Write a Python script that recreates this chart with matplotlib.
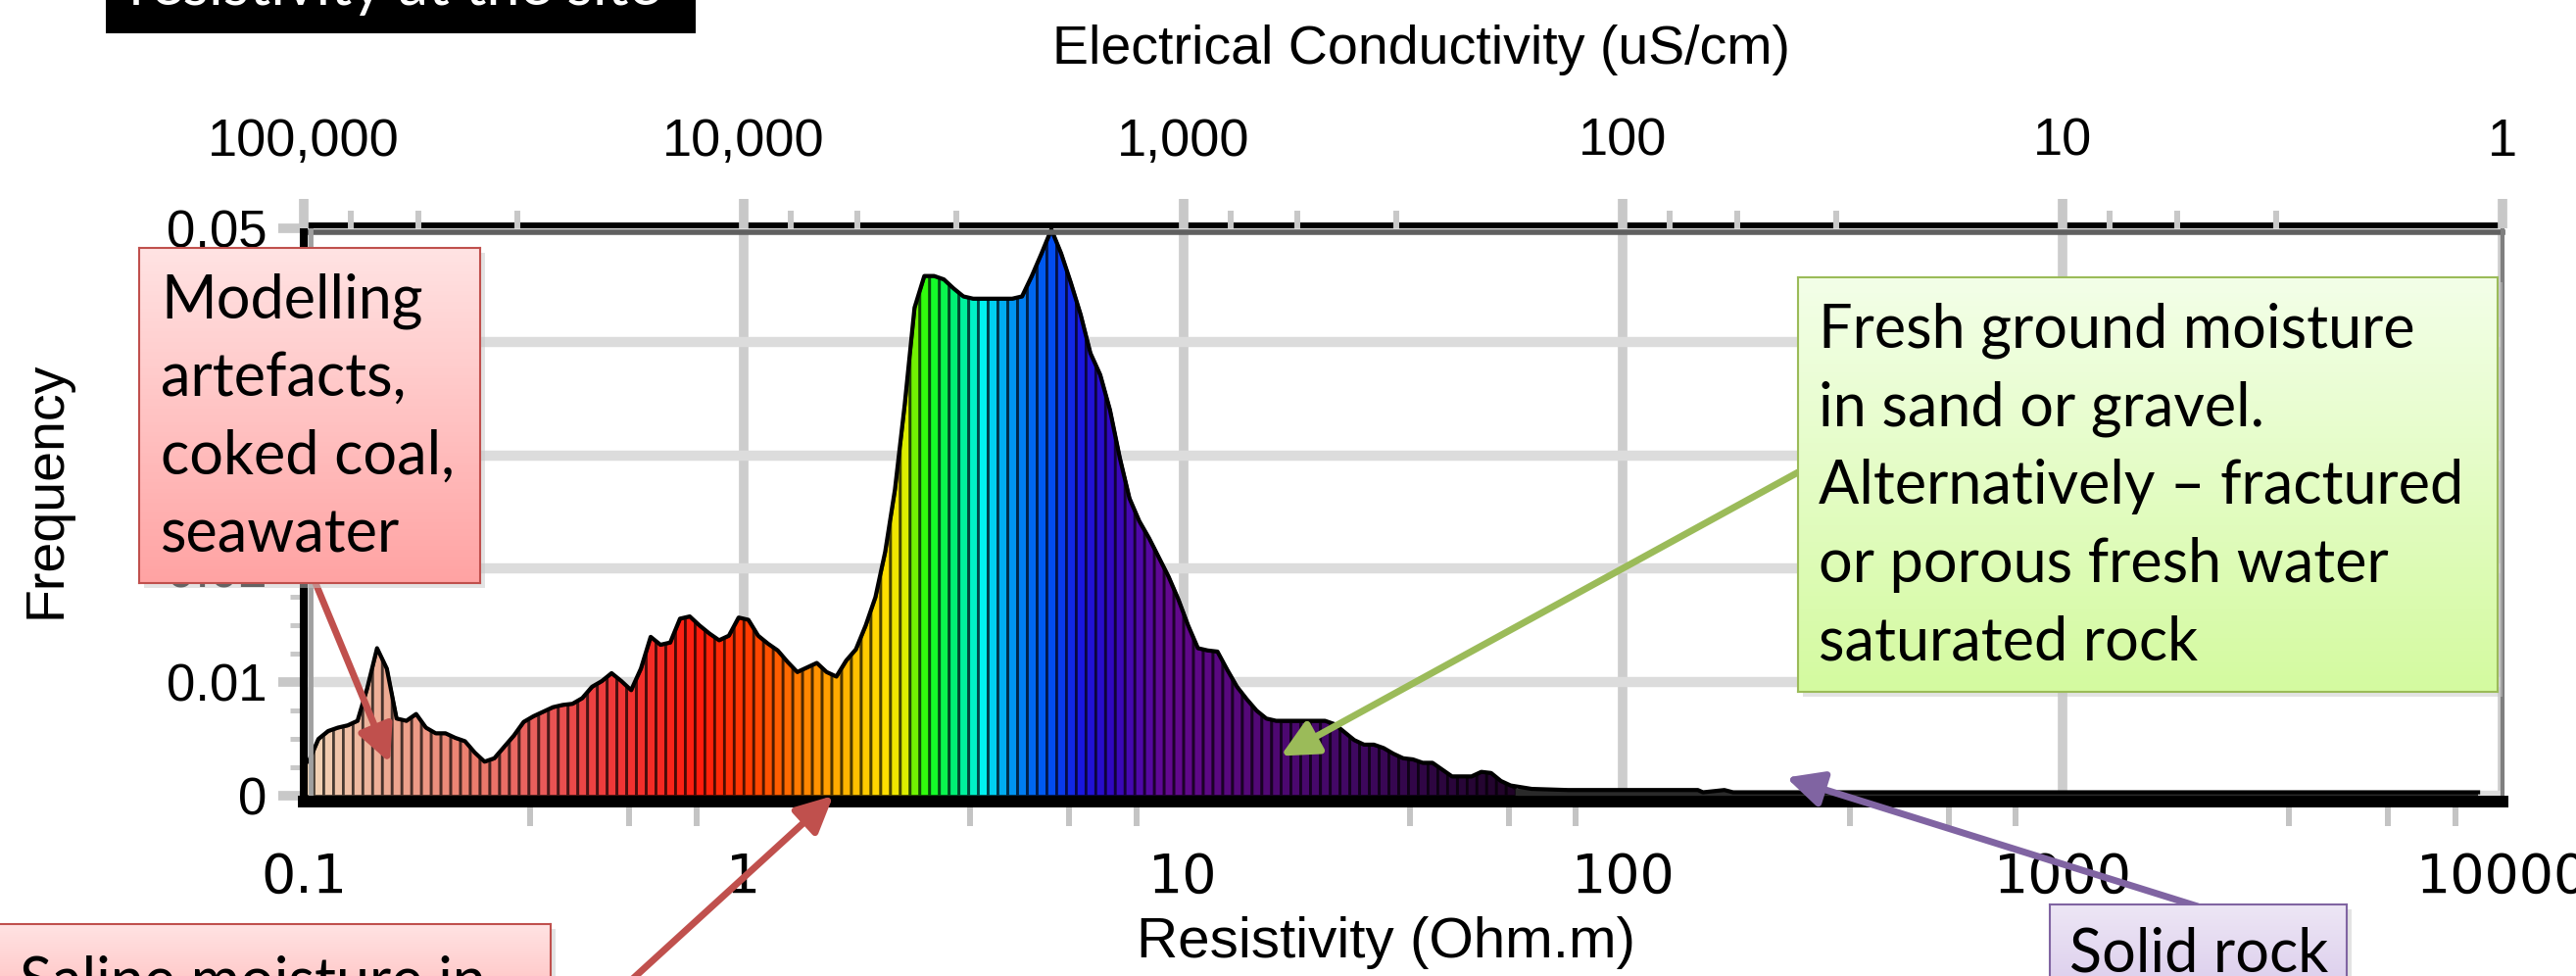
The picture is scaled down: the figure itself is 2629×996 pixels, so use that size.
"""
resistivity histogram with conductivity axis and interpretation notes
"""

import numpy as np
import matplotlib
matplotlib.use('Agg')
import matplotlib.pyplot as plt
from matplotlib import font_manager
from matplotlib.colors import LinearSegmentedColormap
from matplotlib.ticker import NullFormatter
from matplotlib.transforms import offset_copy

# histogram of model resistivities: 45 bins per decade from 0.1 ohm.m
bins_per_decade = 45
start_rho = 0.1
freq = [
    0.0030, 0.0050, 0.0057, 0.0060, 0.0062, 0.0066, 0.0095, 0.0130, 0.0112, 0.0068,
    0.0066, 0.0072, 0.0060, 0.0055, 0.0055, 0.0051, 0.0048, 0.0038, 0.0030, 0.0033,
    0.0043, 0.0053, 0.0065, 0.0070, 0.0074, 0.0078, 0.0080, 0.0081, 0.0086, 0.0096,
    0.0101, 0.0108, 0.0101, 0.0093, 0.0112, 0.0140, 0.0133, 0.0135, 0.0156, 0.0158,
    0.0150, 0.0143, 0.0137, 0.0141, 0.0157, 0.0155, 0.0141, 0.0134, 0.0128, 0.0118,
    0.0109, 0.0113, 0.0117, 0.0109, 0.0105, 0.0119, 0.0129, 0.0150, 0.0175, 0.0215,
    0.0270, 0.0345, 0.0430, 0.0458, 0.0458, 0.0455, 0.0447, 0.0440, 0.0438, 0.0438,
    0.0438, 0.0438, 0.0438, 0.0440, 0.0458, 0.0478, 0.0499, 0.0478, 0.0452, 0.0424,
    0.0390, 0.0371, 0.0340, 0.0298, 0.0262, 0.0242, 0.0227, 0.0210, 0.0193, 0.0173,
    0.0150, 0.0130, 0.0128, 0.0127, 0.0111, 0.0096, 0.0085, 0.0075, 0.0068, 0.0066,
    0.0066, 0.0066, 0.0066, 0.0066, 0.0066, 0.0063, 0.0056, 0.0049, 0.0045, 0.0045,
    0.0042, 0.0037, 0.0033, 0.0032, 0.0029, 0.0029, 0.0023, 0.0017, 0.0017, 0.0017,
    0.0021, 0.0020, 0.0013, 0.0009,
]
# near-zero tail of the distribution
tail_rho = [62, 75, 148, 152, 170, 178, 2000, 8800]
tail_freq = [0.0006, 0.0005, 0.0005, 0.0003, 0.0005, 0.0003, 0.0003, 0.0003]

x_ticks = [0.1, 1, 10, 100, 1000, 10000]
x_tick_labels = ['0.1', '1', '10', '100', '1000', '10000']
top_tick_labels = ['100,000', '10,000', '1,000', '100', '10', '1']
y_ticks = [0, 0.01, 0.02, 0.03, 0.04, 0.05]
y_tick_labels = ['0', '0.01', '0.02', '0.03', '0.04', '0.05']

notes = {
    'artefacts': ['Modelling', 'artefacts,', 'coked coal,', 'seawater'],
    'saline': ['Saline moisture in'],
    'fresh': ['Fresh ground moisture', 'in sand or gravel.',
              'Alternatively \u2013 fractured', 'or porous fresh water',
              'saturated rock'],
    'rock': ['Solid rock'],
}
title_text = 'resistivity at the site'

# colour stops along the bar index
bar_color_stops = [
    (0, '#F2D6B8'), (8, '#EDA892'), (16, '#EC8070'), (24, '#E85858'),
    (32, '#EF3434'), (40, '#FF1C0C'), (45, '#FF3C00'), (48, '#FF6000'),
    (51, '#FF8400'), (54, '#FFAA00'), (57, '#FFCC00'), (59, '#FFE000'),
    (61, '#D8F000'), (62, '#80F000'), (63.5, '#1CFF10'), (66, '#00F070'),
    (69, '#00F2F2'), (71, '#00A8F0'), (73, '#0078F0'), (76, '#0050F0'),
    (79, '#1818E0'), (82, '#3008C0'), (85, '#5008A8'), (88, '#640890'),
    (96, '#540878'), (105, '#440868'), (115, '#2E0642'), (123, '#200428'),
]

names = {f.name for f in font_manager.fontManager.ttflist}
narrow = 'Liberation Sans Narrow' if 'Liberation Sans Narrow' in names else 'Liberation Sans'
note_font = 'Lato'

W, H = 2629, 996
fig = plt.figure(figsize=(W / 100, H / 100), dpi=100)
fig.patch.set_facecolor('white')
ax = fig.add_axes([310 / W, 184 / H, (2554 - 310) / W, (763 - 184) / H])

vals = np.array(freq)
n = len(vals)
edges = start_rho * 10 ** (np.arange(n + 1) / bins_per_decade)
centers = np.sqrt(edges[:-1] * edges[1:])
edge_vals = np.concatenate([[vals[0]], (vals[:-1] + vals[1:]) / 2, [tail_freq[0]]])

stop_idx = [s[0] / (n - 1) for s in bar_color_stops]
cmap = LinearSegmentedColormap.from_list(
    'res', list(zip(stop_idx, [s[1] for s in bar_color_stops])))

for i in range(n):
    fc = np.array(cmap(i / (n - 1))[:3])
    ax.fill_between([edges[i], centers[i], edges[i + 1]],
                    [edge_vals[i], vals[i], edge_vals[i + 1]], 0,
                    facecolor=fc, edgecolor=fc * 0.3, lw=2.0, zorder=1)

ax.fill_between([edges[-1]] + tail_rho, [tail_freq[0]] + tail_freq, 0,
                facecolor='#2A2A2A', lw=0, zorder=1)
ax.plot(np.concatenate([[edges[0]], centers, tail_rho]),
        np.concatenate([[vals[0]], vals, tail_freq]),
        color='black', lw=3, zorder=2, solid_joinstyle='round')

ax.set_xscale('log')
ax.set_xlim(0.1, 10000)
ax.set_ylim(0, 0.05)
ax.set_axisbelow(True)
ax.grid(axis='y', which='major', color='#DCDCDC', lw=7.5)
ax.grid(axis='x', which='major', color='#CDCDCD', lw=7)

minor_fracs = [0.515, 0.74, 0.893]
x_minor = [10 ** (k + f) for k in range(-1, 4) for f in minor_fracs]
ax.set_xticks(x_ticks, x_tick_labels)
ax.set_xticks(x_minor, minor=True)
ax.xaxis.set_minor_formatter(NullFormatter())
ax.set_yticks(y_ticks, y_tick_labels)
ax.set_yticks(np.arange(0, 0.05, 0.0025), minor=True)

ax.tick_params(axis='x', which='major', length=0, pad=37, labelsize=40)
ax.tick_params(axis='x', which='minor', length=18, width=4.3, color='#C4C4C4')
ax.tick_params(axis='y', which='major', length=19, width=7, color='#C8C8C8',
               pad=8, labelsize=38)
ax.tick_params(axis='y', which='minor', length=10, width=3.6, color='#C8C8C8')
for lab in ax.get_xticklabels() + ax.get_yticklabels():
    lab.set_family(narrow)

ax.spines['bottom'].set_linewidth(8.6)
ax.spines['bottom'].set_position(('outward', 4))
ax.spines['top'].set_linewidth(4.3)
ax.spines['top'].set_position(('outward', 2))
ax.spines['left'].set_linewidth(5.8)
ax.spines['right'].set_color('#7F7F7F')
ax.spines['right'].set_linewidth(3)
ax.plot([0, 1], [1, 1], transform=offset_copy(ax.transAxes, fig=fig, y=-4, units='dots'),
        color='#606060', lw=4, clip_on=False, zorder=2.4)
ax.plot([0, 0], [0, 1], transform=offset_copy(ax.transAxes, fig=fig, x=7, units='dots'),
        color='#A0A0A0', lw=3.5, clip_on=False, zorder=2.4)

# conductivity axis on top: EC (uS/cm) = 10000 / rho (ohm.m)
ax2 = ax.twiny()
ax2.set_xscale('log')
ax2.set_xlim(ax.get_xlim())
top_fracs = [0.107, 0.26, 0.485]
ax2.set_xticks(x_ticks, top_tick_labels)
ax2.set_xticks([10 ** (k + f) for k in range(-1, 4) for f in top_fracs], minor=True)
ax2.xaxis.set_minor_formatter(NullFormatter())
ax2.tick_params(axis='x', which='major', length=21.6, width=7, color='#C8C8C8',
                pad=24, labelsize=39)
ax2.tick_params(axis='x', which='minor', length=13, width=4.3, color='#C8C8C8')
for lab in ax2.get_xticklabels():
    lab.set_family(narrow)
for s in ax2.spines.values():
    s.set_visible(False)

fig.text(1451 / W, 931 / H, 'Electrical Conductivity (uS/cm)', ha='center',
         va='baseline', fontsize=40, family=narrow)
fig.text(1415 / W, 34 / H, 'Resistivity (Ohm.m)', ha='center', va='center',
         fontsize=42, family=narrow)
fig.text(47 / W, 496 / H, 'Frequency', rotation=90, ha='center', va='center',
         fontsize=40, family=narrow)


def arrow(tip, start, color):
    a = ax.annotate('', xy=tip, xycoords='data', xytext=start,
                    textcoords='figure pixels', annotation_clip=False,
                    arrowprops=dict(arrowstyle='-|>,head_length=0.45,head_width=0.22',
                                    color=color, lw=5, mutation_scale=50,
                                    shrinkA=0, shrinkB=0))
    a.arrow_patch.set_clip_on(False)


arrow((0.157, 0.0029), (322, 401), '#C0504D')
arrow((1.6, 0.0), (627, -20), '#C0504D')
arrow((16.65, 0.0035), (1835, 514), '#9BBB59')
arrow((235, 0.0016), (2243, 71), '#8064A2')


def note_box(x, y, w, h, top, bottom, edge):
    sh = fig.add_axes([(x + 5) / W, (y - 5) / H, w / W, h / H])
    sh.set_xticks([])
    sh.set_yticks([])
    for s in sh.spines.values():
        s.set_visible(False)
    sh.patch.set_facecolor('#C8C8C8')
    sh.patch.set_alpha(0.5)
    bx = fig.add_axes([x / W, y / H, w / W, h / H])
    grad = np.linspace(0, 1, 100).reshape(-1, 1)
    bx.imshow(grad, cmap=LinearSegmentedColormap.from_list('g', [top, bottom]),
              aspect='auto', extent=[0, 1, 0, 1], origin='upper')
    bx.set_xticks([])
    bx.set_yticks([])
    for s in bx.spines.values():
        s.set_color(edge)
        s.set_linewidth(1.5)


def put_lines(lines, x, y, step=80, color='black'):
    for k, line in enumerate(lines):
        fig.text(x / W, (y - k * step) / H, line, ha='left', va='baseline',
                 fontsize=44, family=note_font, color=color)


note_box(142, 401, 348, 342, '#FFE3E3', '#FFA3A3', '#C0504D')
put_lines(notes['artefacts'], 164, 672)

note_box(-10, -64, 572, 117, '#FFE3E3', '#FFB0B0', '#C0504D')
put_lines(notes['saline'], 20, -24)

note_box(1835, 290, 714, 423, '#F3FFE8', '#D4FAA0', '#9BBB59')
put_lines(notes['fresh'], 1856, 642)

note_box(2092, -44, 303, 117, '#EDE6F5', '#D6C6EA', '#8064A2')
put_lines(notes['rock'], 2112, 5)

tb = fig.add_axes([108 / W, 962 / H, 602 / W, 80 / H])
tb.set_facecolor('black')
tb.set_xticks([])
tb.set_yticks([])
for s in tb.spines.values():
    s.set_visible(False)
fig.text(132 / W, 991 / H, title_text, ha='left', va='baseline', fontsize=44,
         family=note_font, color='white')

fig.savefig('out.png', dpi=100)
